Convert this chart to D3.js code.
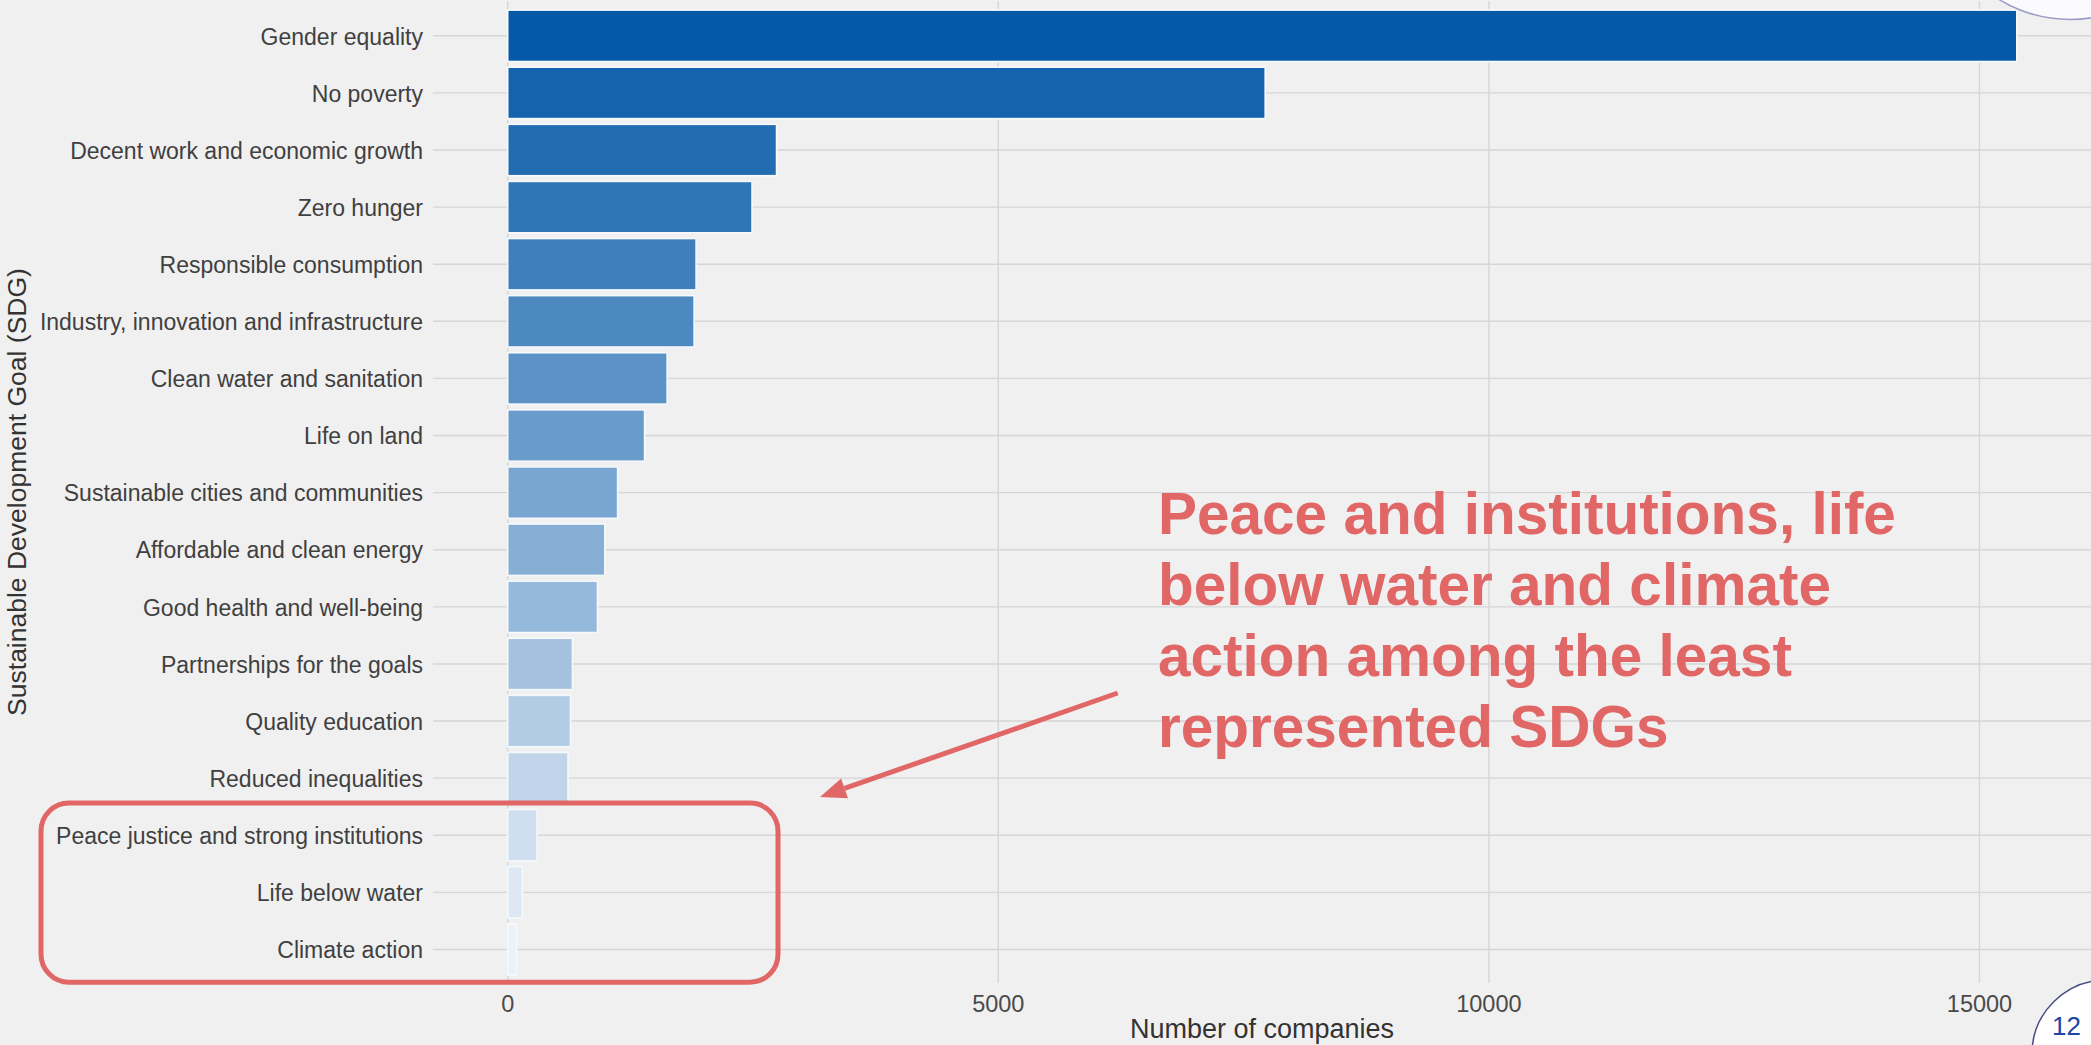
<!DOCTYPE html>
<html>
<head>
<meta charset="utf-8">
<script src="https://cdn.jsdelivr.net/npm/d3@7"></script>
<style>
  html, body { margin: 0; padding: 0; background: #f0f0f0; overflow: hidden; }
  svg { display: block; }
</style>
</head>
<body>
<svg id="chart" width="2091" height="1045"></svg>
<script>
// Number of companies reporting on each Sustainable Development Goal
const categories = [
  "Gender equality",
  "No poverty",
  "Decent work and economic growth",
  "Zero hunger",
  "Responsible consumption",
  "Industry, innovation and infrastructure",
  "Clean water and sanitation",
  "Life on land",
  "Sustainable cities and communities",
  "Affordable and clean energy",
  "Good health and well-being",
  "Partnerships for the goals",
  "Quality education",
  "Reduced inequalities",
  "Peace justice and strong institutions",
  "Life below water",
  "Climate action"
];
const companies = [15380, 7720, 2740, 2490, 1920, 1900, 1625, 1395, 1120, 990, 915, 660, 640, 615, 300, 150, 90];
const xTicks = [0, 5000, 10000, 15000];
const highlighted = ["Peace justice and strong institutions", "Life below water", "Climate action"];
const calloutLines = [
  "Peace and institutions, life",
  "below water and climate",
  "action among the least",
  "represented SDGs"
];
const xTitle = "Number of companies";
const yTitle = "Sustainable Development Goal (SDG)";
const pageNumber = "12";

const W = 2091, H = 1045;
const FONT = "'Liberation Sans', Arial, Helvetica, sans-serif";
const panel = { left: 433, right: W, top: 1, bottom: 983 };

const svg = d3.select("#chart");

svg.append("rect").attr("width", W).attr("height", H).attr("fill", "#f0f0f0");

const x = d3.scaleLinear().domain([0, 15000]).range([507.7, 1979.5]);
const y = d3.scaleBand()
  .domain(categories)
  .range([7.25, 978])
  .paddingInner(0.1)
  .paddingOuter(0.05);

// fill darkens with rank: most reported goal is the deepest blue
const shade = d3.scaleLinear()
  .domain([0, categories.length - 1])
  .range(["#0559a8", "#ecf2f9"])
  .interpolate(d3.interpolateRgb);

// grid
const grid = svg.append("g").attr("class", "grid");
grid.selectAll("line.h")
  .data(categories)
  .join("line")
  .attr("class", "h")
  .attr("x1", panel.left).attr("x2", panel.right)
  .attr("y1", d => y(d) + y.bandwidth() / 2)
  .attr("y2", d => y(d) + y.bandwidth() / 2)
  .attr("stroke", "#d6d6d6").attr("stroke-width", 1.4);
grid.selectAll("line.v")
  .data(xTicks)
  .join("line")
  .attr("class", "v")
  .attr("x1", d => x(d)).attr("x2", d => x(d))
  .attr("y1", panel.top).attr("y2", panel.bottom)
  .attr("stroke", "#d6d6d6").attr("stroke-width", 1.4);

// bars
const rows = categories.map((c, i) => ({ name: c, value: companies[i], rank: i }));
svg.append("g").selectAll("rect")
  .data(rows)
  .join("rect")
  .attr("x", x(0))
  .attr("y", d => y(d.name))
  .attr("width", d => x(d.value) - x(0))
  .attr("height", y.bandwidth())
  .attr("fill", d => shade(d.rank))
  .attr("stroke", "#f6f9fc")
  .attr("stroke-width", 1.6);

// y axis labels
svg.append("g").selectAll("text")
  .data(categories)
  .join("text")
  .attr("x", 423)
  .attr("y", d => y(d) + y.bandwidth() / 2)
  .attr("dy", "0.38em")
  .attr("text-anchor", "end")
  .attr("font-family", FONT)
  .attr("font-size", 23)
  .attr("fill", "#404040")
  .text(d => d);

// x axis tick labels
svg.append("g").selectAll("text")
  .data(xTicks)
  .join("text")
  .attr("x", d => x(d))
  .attr("y", 1012)
  .attr("text-anchor", "middle")
  .attr("font-family", FONT)
  .attr("font-size", 23.5)
  .attr("fill", "#4a4a4a")
  .text(d => d);

// axis titles
svg.append("text")
  .attr("x", (panel.left + panel.right) / 2)
  .attr("y", 1038)
  .attr("text-anchor", "middle")
  .attr("font-family", FONT)
  .attr("font-size", 27)
  .attr("fill", "#333")
  .text(xTitle);

svg.append("text")
  .attr("transform", `translate(26,${(panel.top + panel.bottom) / 2}) rotate(-90)`)
  .attr("text-anchor", "middle")
  .attr("font-family", FONT)
  .attr("font-size", 26.5)
  .attr("fill", "#333")
  .text(yTitle);

// callout: box round the least represented goals
const red = "#e16767";
const hiTop = y(highlighted[0]) - 6.5;
const hiBottom = y(highlighted[highlighted.length - 1]) + y.bandwidth() + 7;
svg.append("rect")
  .attr("x", 41)
  .attr("y", hiTop)
  .attr("width", 778 - 41)
  .attr("height", hiBottom - hiTop)
  .attr("rx", 28).attr("ry", 28)
  .attr("fill", "none")
  .attr("stroke", red)
  .attr("stroke-width", 5);

// arrow from the callout text towards the box
const tail = [1117.7, 693];
const tip = [820, 797];
const ang = Math.atan2(tip[1] - tail[1], tip[0] - tail[0]);
const headLen = 26, headHalf = 10.5;
const base = [tip[0] - headLen * Math.cos(ang), tip[1] - headLen * Math.sin(ang)];
svg.append("line")
  .attr("x1", tail[0]).attr("y1", tail[1])
  .attr("x2", base[0]).attr("y2", base[1])
  .attr("stroke", red).attr("stroke-width", 5);
svg.append("path")
  .attr("d", d3.line()([
    tip,
    [base[0] + headHalf * Math.sin(ang), base[1] - headHalf * Math.cos(ang)],
    [base[0] - headHalf * Math.sin(ang), base[1] + headHalf * Math.cos(ang)]
  ]) + "Z")
  .attr("fill", red);

svg.append("g").selectAll("text")
  .data(calloutLines)
  .join("text")
  .attr("x", 1158)
  .attr("y", (d, i) => 534 + i * 71)
  .attr("font-family", FONT)
  .attr("font-weight", "bold")
  .attr("font-size", 58.5)
  .attr("fill", red)
  .text(d => d);

// slide decorations: corner badges
svg.append("circle")
  .attr("cx", 2070).attr("cy", -116).attr("r", 135.5)
  .attr("fill", "#fbfbfd")
  .attr("stroke", "#9b9cc4").attr("stroke-width", 1.5);

svg.append("circle")
  .attr("cx", 2106).attr("cy", 1054).attr("r", 74)
  .attr("fill", "#ffffff")
  .attr("stroke", "#4a4f86").attr("stroke-width", 1.5);
svg.append("text")
  .attr("x", 2052)
  .attr("y", 1035)
  .attr("font-family", FONT)
  .attr("font-size", 26)
  .attr("fill", "#1b46a3")
  .text(pageNumber);
</script>
</body>
</html>
